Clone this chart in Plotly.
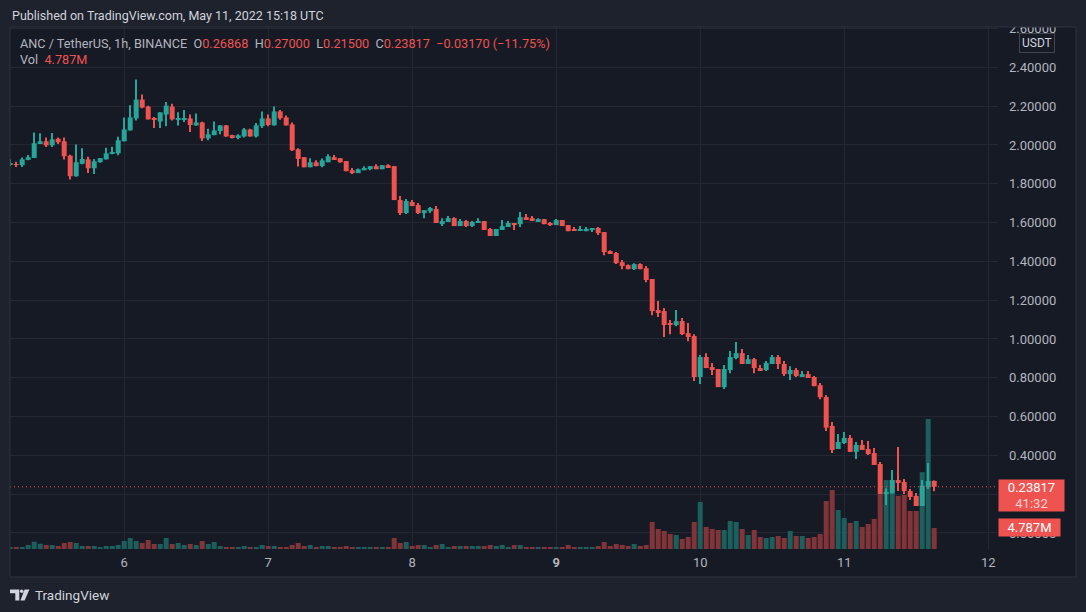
from datetime import datetime, timedelta

import plotly.graph_objects as go

# ANC / TetherUS, 1h candles, BINANCE — May 5 05:00 .. May 11 15:00 (UTC)
FIRST_BAR = datetime(2022, 5, 5, 5, 0)

opens = [
    1.899, 1.901, 1.896, 1.923, 1.933, 2.005, 2.019, 1.998, 2.032, 2.019,
    1.945, 1.839, 1.903, 1.926, 1.880, 1.911, 1.926, 1.954, 1.957, 2.019,
    2.075, 2.137, 2.234, 2.198, 2.138, 2.121, 2.157, 2.198, 2.133, 2.133,
    2.137, 2.101, 2.116, 2.034, 2.051, 2.072, 2.101, 2.051, 2.036, 2.044,
    2.080, 2.044, 2.097, 2.137, 2.101, 2.173, 2.142, 2.106, 1.978, 1.937,
    1.885, 1.911, 1.891, 1.911, 1.937, 1.932, 1.917, 1.870, 1.855, 1.870,
    1.875, 1.891, 1.875, 1.896, 1.891, 1.716, 1.649, 1.706, 1.690, 1.649,
    1.659, 1.670, 1.592, 1.603, 1.623, 1.582, 1.608, 1.582, 1.598, 1.608,
    1.567, 1.531, 1.562, 1.577, 1.598, 1.592, 1.628, 1.623, 1.608, 1.618,
    1.598, 1.587, 1.613, 1.587, 1.563, 1.558, 1.556, 1.562, 1.572, 1.551,
    1.453, 1.443, 1.396, 1.381, 1.360, 1.386, 1.365, 1.309, 1.149, 1.144,
    1.078, 1.072, 1.092, 1.030, 1.015, 0.804, 0.907, 0.855, 0.845, 0.752,
    0.840, 0.902, 0.927, 0.871, 0.896, 0.850, 0.840, 0.871, 0.907, 0.871,
    0.819, 0.840, 0.809, 0.819, 0.804, 0.762, 0.701, 0.552, 0.433, 0.464,
    0.490, 0.418, 0.454, 0.433, 0.412, 0.356, 0.201, 0.204, 0.273, 0.263,
    0.216, 0.191, 0.139, 0.237, 0.26868,
]
highs = [
    1.926, 1.913, 1.935, 1.949, 2.065, 2.060, 2.038, 2.062, 2.038, 2.038,
    1.950, 2.002, 1.983, 1.940, 1.928, 1.933, 1.986, 1.991, 2.043, 2.142,
    2.205, 2.337, 2.260, 2.202, 2.144, 2.169, 2.222, 2.212, 2.169, 2.181,
    2.157, 2.162, 2.120, 2.084, 2.121, 2.103, 2.103, 2.053, 2.055, 2.087,
    2.084, 2.113, 2.173, 2.157, 2.198, 2.181, 2.152, 2.116, 1.983, 1.937,
    1.932, 1.921, 1.930, 1.952, 1.948, 1.932, 1.917, 1.881, 1.879, 1.891,
    1.891, 1.901, 1.896, 1.901, 1.891, 1.737, 1.721, 1.716, 1.701, 1.664,
    1.680, 1.685, 1.623, 1.634, 1.628, 1.618, 1.613, 1.608, 1.623, 1.608,
    1.572, 1.567, 1.613, 1.608, 1.598, 1.654, 1.644, 1.634, 1.623, 1.618,
    1.603, 1.618, 1.613, 1.587, 1.577, 1.582, 1.577, 1.572, 1.577, 1.551,
    1.458, 1.448, 1.407, 1.384, 1.391, 1.391, 1.376, 1.309, 1.196, 1.160,
    1.098, 1.149, 1.108, 1.082, 1.025, 0.917, 0.927, 0.876, 0.845, 0.866,
    0.938, 0.984, 0.948, 0.917, 0.902, 0.866, 0.886, 0.917, 0.917, 0.886,
    0.860, 0.850, 0.835, 0.835, 0.809, 0.773, 0.711, 0.572, 0.510, 0.521,
    0.505, 0.469, 0.479, 0.474, 0.438, 0.366, 0.229, 0.325, 0.443, 0.278,
    0.227, 0.206, 0.273, 0.361, 0.270,
]
lows = [
    1.891, 1.887, 1.887, 1.921, 1.933, 2.005, 1.990, 1.990, 2.005, 1.925,
    1.822, 1.836, 1.901, 1.856, 1.851, 1.909, 1.925, 1.952, 1.947, 2.019,
    2.075, 2.126, 2.190, 2.132, 2.087, 2.087, 2.097, 2.126, 2.101, 2.118,
    2.067, 2.099, 2.021, 2.024, 2.050, 2.056, 2.043, 2.034, 2.029, 2.038,
    2.043, 2.038, 2.087, 2.096, 2.101, 2.130, 2.101, 1.969, 1.889, 1.885,
    1.885, 1.891, 1.885, 1.911, 1.925, 1.908, 1.865, 1.850, 1.855, 1.870,
    1.870, 1.875, 1.875, 1.886, 1.716, 1.639, 1.644, 1.685, 1.644, 1.623,
    1.649, 1.598, 1.582, 1.603, 1.582, 1.582, 1.577, 1.577, 1.598, 1.562,
    1.531, 1.531, 1.562, 1.577, 1.562, 1.577, 1.618, 1.608, 1.608, 1.592,
    1.582, 1.587, 1.582, 1.556, 1.558, 1.558, 1.556, 1.552, 1.536, 1.432,
    1.438, 1.386, 1.360, 1.360, 1.355, 1.360, 1.293, 1.123, 1.113, 1.010,
    1.025, 1.066, 1.020, 0.989, 0.783, 0.768, 0.850, 0.814, 0.752, 0.742,
    0.824, 0.896, 0.871, 0.871, 0.824, 0.835, 0.835, 0.871, 0.845, 0.809,
    0.788, 0.804, 0.804, 0.799, 0.757, 0.690, 0.526, 0.412, 0.433, 0.459,
    0.418, 0.381, 0.428, 0.402, 0.351, 0.201, 0.144, 0.204, 0.216, 0.201,
    0.170, 0.139, 0.139, 0.227, 0.215,
]
closes = [
    1.901, 1.897, 1.926, 1.937, 2.009, 2.019, 1.998, 2.029, 2.014, 1.942,
    1.839, 1.911, 1.928, 1.880, 1.916, 1.932, 1.957, 1.962, 2.024, 2.080,
    2.142, 2.234, 2.193, 2.132, 2.130, 2.168, 2.203, 2.132, 2.137, 2.137,
    2.103, 2.116, 2.034, 2.055, 2.075, 2.101, 2.044, 2.036, 2.050, 2.080,
    2.044, 2.101, 2.137, 2.103, 2.173, 2.138, 2.101, 1.973, 1.928, 1.885,
    1.911, 1.891, 1.921, 1.942, 1.927, 1.911, 1.865, 1.855, 1.875, 1.881,
    1.891, 1.875, 1.896, 1.886, 1.716, 1.649, 1.711, 1.685, 1.649, 1.664,
    1.675, 1.598, 1.608, 1.623, 1.582, 1.608, 1.582, 1.603, 1.608, 1.562,
    1.531, 1.567, 1.582, 1.598, 1.587, 1.628, 1.618, 1.608, 1.618, 1.592,
    1.587, 1.613, 1.582, 1.556, 1.558, 1.563, 1.567, 1.572, 1.546, 1.448,
    1.438, 1.391, 1.376, 1.360, 1.386, 1.360, 1.304, 1.144, 1.139, 1.072,
    1.073, 1.092, 1.025, 1.010, 0.804, 0.907, 0.850, 0.840, 0.752, 0.845,
    0.907, 0.927, 0.871, 0.896, 0.850, 0.840, 0.876, 0.907, 0.871, 0.819,
    0.840, 0.809, 0.819, 0.799, 0.757, 0.700, 0.543, 0.428, 0.469, 0.490,
    0.418, 0.454, 0.428, 0.407, 0.351, 0.201, 0.211, 0.273, 0.258, 0.216,
    0.186, 0.139, 0.244, 0.268, 0.23817,
]
# volume in millions of ANC
volumes_m = [
    0.46, 0.46, 0.46, 0.91, 1.67, 1.21, 0.91, 0.91, 0.68, 1.37,
    1.59, 1.37, 0.68, 0.68, 0.68, 0.46, 0.68, 0.68, 0.91, 1.82,
    2.51, 1.82, 1.37, 2.05, 1.14, 1.14, 2.51, 1.14, 1.37, 0.91,
    1.14, 0.91, 1.82, 1.14, 1.59, 0.68, 0.46, 0.46, 0.46, 0.68,
    0.46, 0.46, 0.91, 0.68, 0.68, 0.46, 0.46, 0.91, 1.37, 0.68,
    0.91, 0.46, 0.68, 0.68, 0.46, 0.46, 0.68, 0.46, 0.46, 0.46,
    0.23, 0.46, 0.23, 0.46, 2.51, 1.37, 1.59, 0.68, 0.91, 0.91,
    0.46, 0.91, 1.14, 0.46, 0.68, 0.68, 0.68, 0.68, 0.68, 0.68,
    0.91, 0.68, 0.91, 0.46, 0.91, 0.91, 0.46, 0.46, 0.23, 0.46,
    0.46, 0.46, 0.46, 0.91, 0.46, 0.46, 0.46, 0.46, 0.68, 1.59,
    0.68, 1.14, 0.91, 0.68, 1.14, 0.68, 0.91, 6.15, 4.56, 4.10,
    3.42, 3.19, 2.28, 2.73, 6.15, 10.71, 5.01, 4.56, 4.33, 4.33,
    6.38, 6.15, 4.56, 3.19, 4.33, 2.73, 2.51, 2.73, 2.96, 2.51,
    4.10, 2.96, 2.96, 2.51, 2.73, 3.42, 10.93, 13.44, 8.88, 7.06,
    5.92, 6.38, 5.01, 5.69, 6.83, 12.5, 15.7, 15.7, 12.1, 12.3,
    8.66, 8.66, 17.5, 29.6, 4.787,
]

price_ticks = [0.0, 0.2, 0.4, 0.6, 0.8, 1.0, 1.2, 1.4, 1.6, 1.8, 2.0, 2.2, 2.4, 2.6]
# 0.20000 sits fully behind the last-price badge, so its label is left blank
price_labels = ["" if v == 0.2 else f"{v:.5f}" for v in price_ticks]
day_ticks = [datetime(2022, 5, d) for d in range(6, 13)]
day_labels = ["6", "7", "8", "<b>9</b>", "10", "11", "12"]

LAST_PRICE = 0.23817
LAST_VOL = 4.787

# ── colours ──────────────────────────────────────────────────────────────────
UP = "#26a69a"
DOWN = "#ef5350"
UP_VOL = "#1d5f5c"
DOWN_VOL = "#813539"
PAPER = "#1e222d"
PANE = "#161a25"
GRID = "#242833"
BORDER = "#2e323e"
TEXT = "#d1d4dc"
MUTED = "#b2b5be"
FONT = "Roboto"

HOUR_MS = 3600 * 1000

times = [FIRST_BAR + timedelta(hours=i) for i in range(len(opens))]
is_up = [c >= o for o, c in zip(opens, closes)]
candle_colors = [UP if u else DOWN for u in is_up]
vol_colors = [UP_VOL if u else DOWN_VOL for u in is_up]

body_base = [min(o, c) for o, c in zip(opens, closes)]
body_len = [max(abs(c - o), 0.005) for o, c in zip(opens, closes)]  # keep dojis visible
wick_len = [h - l for h, l in zip(highs, lows)]

fig = go.Figure()

# volume sits on the main y axis so it is drawn beneath the price overlay
fig.add_trace(go.Bar(
    x=times, y=volumes_m, width=HOUR_MS * 5 / 6,
    marker=dict(color=vol_colors, line=dict(width=0)),
    yaxis="y", hoverinfo="skip",
))
fig.add_trace(go.Bar(
    x=times, y=wick_len, base=lows, width=HOUR_MS / 6,
    marker=dict(color=candle_colors, line=dict(width=0)),
    yaxis="y2", hoverinfo="skip",
))
fig.add_trace(go.Bar(
    x=times, y=body_len, base=body_base, width=HOUR_MS * 5 / 6,
    marker=dict(color=candle_colors, line=dict(width=0)),
    yaxis="y2", hoverinfo="skip",
))

# plot area in pixels: x 10..998, y 27..549
W, H = 1086, 612
L, R, T, B = 10, 998, 27, 549


def px(x):
    return (x - L) / (R - L)


def py(y):
    return (B - y) / (B - T)


fig.update_layout(
    width=W, height=H,
    margin=dict(l=L, r=W - R, t=T, b=H - B),
    paper_bgcolor=PAPER,
    plot_bgcolor=PANE,
    barmode="overlay",
    showlegend=False,
    hovermode=False,
    font=dict(family=FONT, color=MUTED, size=13),
    xaxis=dict(
        type="date",
        range=[datetime(2022, 5, 5, 4, 58), datetime(2022, 5, 12, 1, 38)],
        tickvals=day_ticks, ticktext=day_labels,
        showgrid=True, gridcolor=GRID, gridwidth=1,
        zeroline=False, showline=False, ticks="",
        tickfont=dict(size=13, color=MUTED),
        ticklabelstandoff=4,
    ),
    yaxis=dict(
        range=[0, 118.9], visible=False, showgrid=False, zeroline=False,
    ),
    yaxis2=dict(
        overlaying="y", side="right", anchor="x",
        range=[-0.0825, 2.6082],
        tickvals=price_ticks, ticktext=price_labels,
        showgrid=True, gridcolor=GRID, gridwidth=1,
        zeroline=False, showline=False, ticks="",
        tickfont=dict(size=13, color=MUTED),
        ticklabelstandoff=10,
    ),
)

shapes = [
    # pane background (chart + price axis + time axis)
    dict(type="rect", xref="paper", yref="paper", layer="below",
         x0=px(10), x1=px(1076), y0=py(27), y1=py(577),
         fillcolor=PANE, line=dict(width=0)),
    # last-price dotted line
    dict(type="line", xref="paper", yref="y2", layer="above",
         x0=0, x1=1, y0=LAST_PRICE, y1=LAST_PRICE,
         line=dict(color=DOWN, width=1, dash="1px,3px")),
    # clip anything drawn above the pane
    dict(type="rect", xref="paper", yref="paper", layer="above",
         x0=px(0), x1=px(W), y0=py(27), y1=py(0),
         fillcolor=PAPER, line=dict(width=0)),
    # pane border
    dict(type="rect", xref="paper", yref="paper", layer="above",
         x0=px(10), x1=px(1076), y0=py(27), y1=py(577),
         fillcolor="rgba(0,0,0,0)", line=dict(color=BORDER, width=1)),
    # TradingView logo mark
    dict(type="path", xref="paper", yref="paper", layer="above",
         path=(f"M {px(10)} {py(589.5)} L {px(19.3)} {py(589.5)} L {px(19.3)} {py(600.5)} "
               f"L {px(15.3)} {py(600.5)} L {px(15.3)} {py(593.3)} L {px(10)} {py(593.3)} Z"),
         fillcolor=TEXT, line=dict(width=0)),
    dict(type="circle", xref="paper", yref="paper", layer="above",
         x0=px(19.9), x1=px(23.5), y0=py(589.5), y1=py(593.1),
         fillcolor=TEXT, line=dict(width=0)),
    dict(type="path", xref="paper", yref="paper", layer="above",
         path=(f"M {px(24.6)} {py(589.5)} L {px(29.4)} {py(589.5)} L {px(24.6)} {py(600.5)} "
               f"L {px(20.4)} {py(600.5)} Z"),
         fillcolor=TEXT, line=dict(width=0)),
]
fig.update_layout(shapes=shapes)

red = f'<span style="color:{DOWN}">'
legend_line = (
    "ANC / TetherUS, 1h, BINANCE\u00a0\u00a0"
    f"O{red}0.26868</span>\u00a0\u00a0H{red}0.27000</span>\u00a0\u00a0"
    f"L{red}0.21500</span>\u00a0\u00a0C{red}0.23817</span>\u00a0\u00a0"
    f"{red}\u22120.03170 (\u221211.75%)</span>"
)

annotations = [
    dict(text="Published on TradingView.com, May 11, 2022 15:18 UTC",
         xref="paper", yref="paper", x=px(10), y=py(15),
         xanchor="left", yanchor="middle", showarrow=False,
         font=dict(size=12.5, color=TEXT)),
    dict(text=legend_line, xref="paper", yref="paper", x=px(18), y=py(43),
         xanchor="left", yanchor="middle", showarrow=False,
         font=dict(size=12.7, color=MUTED)),
    dict(text=f"Vol\u00a0\u00a0{red}4.787M</span>", xref="paper", yref="paper",
         x=px(18), y=py(60), xanchor="left", yanchor="middle", showarrow=False,
         font=dict(size=12.7, color=MUTED)),
    dict(text="USDT", xref="paper", yref="paper", x=px(1037), y=py(42.5),
         xanchor="center", yanchor="middle", showarrow=False,
         font=dict(size=12, color=TEXT), bgcolor=PANE,
         bordercolor="#434651", borderwidth=1, borderpad=2),
    # last price badge
    dict(text=f'{LAST_PRICE:.5f}<br><span style="color:#fcd3d2">41:32</span>',
         xref="paper", yref="y2", x=1.0, y=LAST_PRICE,
         xanchor="left", yanchor="top", yshift=8, showarrow=False,
         width=61, height=27, borderpad=2, align="center",
         bgcolor=DOWN, font=dict(size=13, color="#ffffff")),
    # last volume badge
    dict(text=f"{LAST_VOL}M", xref="paper", yref="y", x=1.0, y=LAST_VOL,
         xanchor="left", yanchor="middle", showarrow=False,
         width=57, height=13, borderpad=2, align="center",
         bgcolor=DOWN, font=dict(size=13, color="#ffffff")),
    # footer brand
    dict(text="TradingView", xref="paper", yref="paper", x=px(33), y=py(595),
         xanchor="left", yanchor="middle", showarrow=False,
         font=dict(size=13.5, color=TEXT)),
]
fig.update_layout(annotations=annotations)

# the page's default 8px body margin would push the figure off the window
fig.write_html(
    "out.html",
    config={"displayModeBar": False},
    post_script=f"document.body.style.margin='0';document.body.style.background='{PAPER}';",
)
